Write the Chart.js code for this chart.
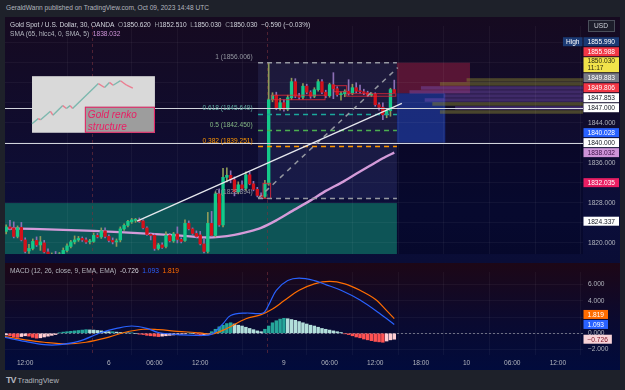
<!DOCTYPE html>
<html>
<head>
<meta charset="utf-8">
<script src="https://cdn.jsdelivr.net/npm/chart.js@4.4.0/dist/chart.umd.min.js"></script>
<style>
  html, body { margin: 0; padding: 0; width: 625px; height: 390px; overflow: hidden; background: #1e212a; font-family: "Liberation Sans", Arial, sans-serif; }
  .txt { position: absolute; white-space: nowrap; font-size: 6.6px; line-height: 9px; color: #d1d4dc; z-index: 5; }
  .g { color: #9598a1; }
  #panel { position: absolute; left: 5px; top: 17px; width: 615px; height: 353px; }
  #mainWrap { position: absolute; left: 0; top: 0; width: 615px; height: 246px; background: linear-gradient(#160a20, #100c2e 45%, #0b0e3a 80%, #0a0d36); }
  #macdWrap { position: absolute; left: 0; top: 246px; width: 615px; height: 107px; background: linear-gradient(#1d0716, #0a0a30 55%, #010b3c); }
</style>
</head>
<body>
<div class="txt" style="left:6px;top:3px;color:#b2b5be">GeraldWann published on TradingView.com, Oct 09, 2023 14:48 UTC</div>
<div id="panel">
  <div id="mainWrap"><canvas id="main" width="615" height="246"></canvas></div>
  <div id="macdWrap"><canvas id="macd" width="615" height="107"></canvas></div>
</div>
<div class="txt" style="left:10px;top:20px">Gold Spot / U.S. Dollar, 30, OANDA&nbsp; <span class="g">O</span>1850.620&nbsp; <span class="g">H</span>1852.510&nbsp; <span class="g">L</span>1850.030&nbsp; <span class="g">C</span>1850.030&nbsp; −0.590 (−0.03%)</div>
<div class="txt" style="left:10px;top:29px"><span style="color:#b2b5be">SMA (65, hlcc4, 0, SMA, 5)</span>&nbsp; <span style="color:#ce93d8">1838.032</span></div>
<div class="txt" style="left:10px;top:266px"><span style="color:#b2b5be">MACD (12, 26, close, 9, EMA, EMA)</span>&nbsp; -0.726&nbsp; <span style="color:#2962ff">1.093</span>&nbsp; <span style="color:#ff6d00">1.819</span></div>
<div class="txt" style="left:6px;top:375px;font-size:7.5px;line-height:10px;color:#b2b5be"><b style="font-size:9px;letter-spacing:-1px">TV</b>&nbsp;TradingView</div>

<script>
// 30 min bars, index 0 = Oct 9 00:00
const firstIdx = -73;
const ohlc = [
  [1822.3,1823.6,1821.8,1823.2],[1823.2,1824.5,1822.6,1822.9],[1823.0,1824.2,1821.0,1821.3],[1821.3,1823.4,1821.0,1823.0],
  [1823.1,1824.1,1820.4,1820.6],[1820.6,1821.0,1818.0,1818.3],[1818.4,1819.7,1817.9,1818.9],[1818.9,1820.8,1818.6,1820.3],
  [1820.5,1821.2,1819.3,1819.6],[1819.6,1821.3,1818.5,1820.2],[1820.0,1820.5,1818.0,1818.2],[1818.2,1818.8,1816.5,1817.0],
  [1817.0,1818.0,1816.2,1817.5],[1817.5,1818.3,1816.8,1817.2],[1817.2,1818.1,1816.9,1817.8],[1817.8,1819.0,1817.5,1818.5],
  [1818.5,1819.8,1818.2,1819.4],[1819.3,1820.5,1819.0,1820.2],[1820.2,1821.4,1819.8,1820.6],[1820.6,1821.3,1820.3,1820.9],
  [1820.9,1821.2,1820.3,1820.6],[1820.6,1821.0,1819.9,1820.2],[1820.2,1820.7,1819.8,1820.3],[1820.3,1822.0,1820.1,1821.5],
  [1821.5,1821.9,1821.0,1821.2],[1821.2,1823.0,1820.9,1822.4],[1822.4,1823.0,1821.0,1821.3],[1821.3,1821.6,1820.2,1820.5],
  [1820.5,1821.0,1819.8,1820.2],[1820.2,1820.8,1819.3,1820.4],[1820.6,1823.2,1820.2,1822.8],[1822.8,1823.8,1822.5,1823.5],
  [1823.5,1824.5,1823.2,1824.3],[1824.2,1824.9,1823.9,1824.6],[1824.5,1824.9,1824.1,1824.7],[1824.6,1825.0,1824.1,1824.3],
  [1824.4,1824.6,1822.8,1823.0],[1823.0,1823.2,1821.5,1821.7],[1821.7,1822.0,1820.6,1821.5],[1821.5,1821.8,1818.5,1818.9],
  [1818.9,1819.9,1818.6,1819.6],[1819.6,1820.0,1818.9,1819.1],[1819.3,1822.2,1819.0,1821.5],[1821.5,1821.9,1820.2,1820.4],
  [1820.4,1822.1,1820.1,1821.8],[1821.8,1823.2,1820.0,1820.7],[1820.7,1821.0,1820.0,1820.3],[1820.5,1824.6,1820.3,1823.9],
  [1823.9,1824.4,1822.6,1822.8],[1822.8,1823.0,1821.7,1821.9],[1821.9,1822.4,1821.0,1821.3],[1821.6,1822.3,1819.6,1819.8],
  [1819.8,1820.8,1818.0,1818.3],[1818.3,1826.1,1818.0,1823.9],[1823.9,1826.3,1821.3,1821.5],[1821.5,1830.2,1821.2,1829.8],
  [1829.8,1830.8,1823.3,1823.6],[1823.6,1834.9,1823.2,1833.1],[1833.1,1835.0,1832.2,1833.5],[1833.5,1834.4,1832.0,1832.6],
  [1832.6,1833.2,1829.4,1830.2],[1830.2,1832.2,1829.8,1831.6],[1831.6,1832.4,1830.6,1830.9],[1830.9,1834.2,1830.5,1833.6],
  [1833.6,1834.1,1831.6,1831.8],[1831.8,1832.3,1830.4,1830.7],[1830.7,1831.1,1829.2,1829.5],[1829.5,1830.0,1828.894,1829.2],
  [1829.3,1832.5,1829.0,1831.8],[1831.8,1855.99,1831.5,1848.6],[1848.6,1850.0,1848.2,1849.5],[1849.5,1850.1,1846.6,1846.9],
  [1846.9,1848.9,1846.5,1848.0],[1848.0,1848.6,1846.3,1846.7],[1846.7,1849.5,1846.4,1849.0],[1849.0,1852.9,1848.6,1852.2],
  [1852.2,1852.8,1849.0,1849.3],[1849.3,1849.9,1848.7,1849.1],[1849.1,1851.8,1848.7,1851.3],[1851.3,1851.7,1849.8,1850.1],
  [1850.1,1850.4,1848.9,1849.3],[1849.3,1851.0,1849.0,1850.6],[1850.6,1852.6,1850.3,1852.2],[1852.2,1852.6,1849.8,1850.1],
  [1850.1,1850.5,1849.0,1849.4],[1849.4,1851.9,1849.1,1851.6],[1851.6,1854.0,1848.8,1850.8],[1850.8,1851.2,1849.3,1849.6],
  [1849.6,1850.2,1848.5,1849.8],[1849.8,1850.6,1849.2,1850.3],[1850.3,1852.6,1849.5,1849.9],[1849.9,1851.7,1849.6,1851.0],
  [1851.0,1852.0,1850.0,1850.3],[1850.3,1851.5,1849.9,1850.2],[1850.2,1850.7,1849.6,1850.0],[1850.0,1850.3,1849.2,1849.5],
  [1849.5,1850.0,1849.2,1849.7],[1849.7,1850.0,1847.3,1847.6],[1847.6,1848.0,1846.5,1847.1],[1847.1,1848.0,1844.6,1845.6],
  [1845.6,1846.8,1845.0,1846.4],[1846.4,1850.9,1845.3,1850.62],[1850.62,1852.51,1850.03,1850.03]
];
const smaPts = [
  [-73.3,1822.9],[-66,1822.8],[-58,1822.6],[-50,1822.4],[-42,1822.1],[-35,1821.8],[-28,1821.5],[-21,1821.1],
  [-17,1821.2],[-13,1821.6],[-9,1822.3],[-6,1823.0],[-2,1824.5],[2,1826.3],[7,1828.5],[11,1830.4],
  [15.5,1832.2],[19,1833.8],[22.6,1835.4],[26,1836.9],[29,1838.03]
];
const macdHist = [
  -0.2,-0.3,-0.45,-0.5,-0.4,-0.3,-0.35,-0.5,-0.6,-0.55,-0.45,-0.35,-0.25,-0.15,
  0.05,0.15,0.2,0.25,0.3,0.35,0.4,0.45,0.42,0.4,0.35,0.3,
  0.25,0.2,0.2,0.15,0.1,0.1,0.05,0.05,0.0,
  -0.1,-0.15,-0.25,-0.3,-0.35,-0.4,-0.35,-0.3,-0.25,-0.2,-0.15,
  -0.1,-0.05,0.05,0.0,-0.1,-0.3,-0.2,-0.1,
  0.2,0.5,0.8,1.0,1.2,1.3,
  1.15,1.0,0.9,0.75,0.6,0.45,0.3,0.2,
  0.5,0.9,1.3,1.55,1.75,1.85,
  1.8,1.7,1.6,1.45,1.3,1.15,1.0,0.9,0.75,0.6,0.5,0.4,0.3,0.2,0.1,
  -0.05,-0.15,-0.3,-0.45,-0.55,-0.7,-0.8,-0.9,-1.0,-1.05,-1.1,-0.95,-0.8,-0.726
];
const macdPts = [
  [-73.3,-0.5],[-68,-1.0],[-63,-1.4],[-59,-1.4],[-54,-1.0],[-48,0.1],[-44,0.6],[-40,0.9],[-36,0.6],[-33,0.1],
  [-27,-0.2],[-22,-0.25],[-19,-0.1],[-16,1.2],[-14,2.2],[-10,2.5],[-5.5,2.5],[-4,3.5],[-2,5.3],[1,6.5],
  [4,6.8],[8,6.5],[11,6.0],[15,5.3],[20,4.1],[25,2.5],[29,1.093]
];
const signalPts = [
  [-73.3,-0.4],[-68,-0.8],[-63,-1.1],[-57,-1.3],[-52,-1.1],[-47,-0.6],[-42,0.1],[-37,0.5],[-33,0.45],[-28,0.25],
  [-22,0.05],[-19,-0.1],[-15,0.6],[-10,1.8],[-6,2.3],[-3,3.0],[0,4.0],[4,5.3],[8,6.1],[12,6.4],[16,6.1],
  [20,5.3],[24,4.2],[27,2.8],[29,1.819]
];
const timeTicks = [-68,-46,-34,-22,0,12,24,36,48,60,72];
const timeLabels = ['12:00','6','06:00','12:00','9','06:00','12:00','18:00','10','06:00','12:00'];
const sessionBreaks = [-50.5,-4.5];
const priceTicksShown = [1820,1828,1836,1844];
const macdTicksShown = [-2,0,4,6];
const fibLevels = [
  {r:'1', v:1856.006, c:'#9598a1', t:'#9598a1'},
  {r:'0.618', v:1845.649, c:'#1ba89c', t:'#5fa9a0'},
  {r:'0.5', v:1842.450, c:'#4caf50', t:'#86b986'},
  {r:'0.382', v:1839.251, c:'#ff9800', t:'#ff9800'},
  {r:'0', v:1828.894, c:'#9598a1', t:'#9598a1'}
];
const priceLabels = [
  {v:1855.990, text:'1855.990', bg:'#1b3a74', fg:'#ffffff', tag:'High'},
  {v:1855.988, text:'1855.988', bg:'#f23645', fg:'#ffffff'},
  {v:1850.030, text:'1850.030\n11:17', bg:'#f2e34a', fg:'#2b2b10'},
  {v:1849.883, text:'1849.883', bg:'#787b86', fg:'#ffffff'},
  {v:1849.806, text:'1849.806', bg:'#f23645', fg:'#ffffff'},
  {v:1847.853, text:'1847.853', bg:'#ffffff', fg:'#131722'},
  {v:1847.000, text:'1847.000', bg:'#ffffff', fg:'#131722'},
  {v:1840.028, text:'1840.028', bg:'#2962ff', fg:'#ffffff'},
  {v:1840.000, text:'1840.000', bg:'#ffffff', fg:'#131722'},
  {v:1838.032, text:'1838.032', bg:'#ce93d8', fg:'#3a1046'},
  {v:1832.035, text:'1832.035', bg:'#e91e63', fg:'#ffffff'},
  {v:1824.337, text:'1824.337', bg:'#ffffff', fg:'#131722'}
];
const macdLabels = [
  {v:1.819, text:'1.819', bg:'#ff6d00', fg:'#ffffff'},
  {v:1.093, text:'1.093', bg:'#2962ff', fg:'#ffffff'},
  {v:-0.726, text:'−0.726', bg:'#f8d3d8', fg:'#7a1020'}
];
// volume profile rows: [high, low, from index, kind]
const vpRows = [
  [1853.0,1852.2,48,'o'],[1852.2,1851.4,41,'o'],[1851.4,1850.6,36,'p'],[1850.6,1849.8,33,'p'],
  [1849.8,1849.0,42,'p'],[1849.0,1848.2,37,'p'],[1848.2,1847.4,39,'o'],[1847.4,1846.6,45,'p'],[1846.6,1845.8,41,'o']
];
const renkoBoxes = [[-5.5,-3.5,1828.9,1831.9],[-3.2,10.8,1848.6,1849.5],[13.2,16.5,1850.2,1851.4],[16.5,29.4,1849.3,1849.8]];
// inset picture: renko path in percent of the box
const insetPath = [[0,16],[5,25],[7,23],[15,38],[17,31],[25,48],[28,43],[31,48],[33,43],[54,87],[59,80],[63,89],[66,84],[72,92],[77,84],[82,79]];

const xMin = -73.3, xMax = 78.6;
const FONT = '6.6px "Liberation Sans", Arial, sans-serif';
const UP = '#14c98a', DOWN = '#d3111a';

const idx = ohlc.map((_, k) => firstIdx + k);

function drawAxisLabels(chart, list) {
  const {ctx, chartArea, scales: {y}} = chart;
  ctx.save();
  ctx.font = FONT;
  ctx.textBaseline = 'middle';
  let prevTop = Infinity;
  list.slice().sort((a, b) => a.v - b.v).forEach(l => {
    const lines = l.text.split('\n');
    const h = lines.length > 1 ? 15 : 9;
    let cy = Math.min(y.getPixelForValue(l.v), prevTop - 1 - h / 2);
    const top = cy - h / 2;
    const w = Math.max(...lines.map(t => ctx.measureText(t).width)) + 8;
    const x0 = chartArea.right + 0.5;
    ctx.fillStyle = l.bg;
    ctx.fillRect(x0, top, w, h);
    ctx.fillStyle = l.fg;
    lines.forEach((t, k) => ctx.fillText(t, x0 + 4, lines.length > 1 ? top + 4 + k * 7 : cy + 0.5));
    if (l.tag) {
      const tw = ctx.measureText(l.tag).width + 6;
      ctx.fillStyle = l.bg;
      ctx.fillRect(x0 - tw - 1, top, tw, h);
      ctx.fillStyle = '#ffffff';
      ctx.fillText(l.tag, x0 - tw + 2, cy + 0.5);
    }
    prevTop = top;
  });
  ctx.restore();
}

function drawBreaks(chart) {
  const {ctx, chartArea, scales: {x}} = chart;
  ctx.save();
  ctx.strokeStyle = 'rgba(120,50,62,0.6)';
  ctx.setLineDash([3, 3]);
  ctx.lineWidth = 1;
  sessionBreaks.forEach(b => {
    const px = Math.round(x.getPixelForValue(b)) + 0.5;
    ctx.beginPath(); ctx.moveTo(px, chartArea.top); ctx.lineTo(px, chartArea.bottom); ctx.stroke();
  });
  ctx.restore();
}

const mainPlugin = {
  id: 'mainDeco',
  beforeDraw(chart) {
    const {ctx, chartArea: a, scales: {x, y}} = chart;
    const X = v => x.getPixelForValue(v), Y = v => y.getPixelForValue(v);
    ctx.save();
    // teal zone
    ctx.fillStyle = '#0d5456';
    ctx.fillRect(a.left, Y(1827.96), X(29.7) - a.left, a.bottom - Y(1827.96));
    // darker right part
    ctx.fillStyle = 'rgba(0,0,25,0.35)';
    ctx.fillRect(X(29.7), Y(1840), a.right - X(29.7), a.bottom - Y(1840));
    // fib box
    ctx.fillStyle = 'rgba(90,100,170,0.16)';
    ctx.fillRect(X(-6.8), Y(1856.006), X(29.7) - X(-6.8), Y(1828.894) - Y(1856.006));
    // position boxes
    ctx.fillStyle = 'rgba(200,40,75,0.38)';
    ctx.fillRect(X(29.7), Y(1855.988), X(48.9) - X(29.7), Y(1849.883) - Y(1855.988));
    ctx.fillStyle = 'rgba(41,98,255,0.38)';
    ctx.fillRect(X(29.7), Y(1849.883), X(42.4) - X(29.7), Y(1840.028) - Y(1849.883));
    // volume profile
    vpRows.forEach(r => {
      ctx.fillStyle = r[3] === 'o' ? 'rgba(130,125,45,0.5)' : 'rgba(120,80,180,0.45)';
      ctx.fillRect(X(r[2]), Y(r[0]) + 0.5, a.right - X(r[2]), Y(r[1]) - Y(r[0]) - 0.5);
    });
    ctx.restore();
  },
  beforeDatasetsDraw(chart) { drawBreaks(chart); },
  afterDatasetsDraw(chart) {
    const {ctx, chartArea: a, scales: {x, y}} = chart;
    const X = v => x.getPixelForValue(v), Y = v => y.getPixelForValue(v);
    ctx.save();
    // renko boxes
    ctx.strokeStyle = 'rgba(225,40,55,0.85)';
    ctx.lineWidth = 1;
    renkoBoxes.forEach(b => ctx.strokeRect(X(b[0]), Y(b[3]), X(b[1]) - X(b[0]), Y(b[2]) - Y(b[3])));
    // horizontal lines
    ctx.strokeStyle = '#d1d4dc';
    [1847.0, 1840.0].forEach(v => {
      const py = Math.round(Y(v)) + 0.5;
      ctx.beginPath(); ctx.moveTo(a.left, py); ctx.lineTo(a.right, py); ctx.stroke();
    });
    // fib levels
    ctx.lineWidth = 1.5;
    ctx.setLineDash([5, 4]);
    ctx.font = FONT;
    ctx.textAlign = 'right';
    fibLevels.forEach(f => {
      ctx.strokeStyle = f.c;
      ctx.beginPath(); ctx.moveTo(X(-6.8), Y(f.v)); ctx.lineTo(X(29.7), Y(f.v)); ctx.stroke();
      ctx.fillStyle = f.t;
      ctx.fillText(f.r + ' (' + f.v.toFixed(3) + ')', X(-8.2), Y(f.v) - 4);
    });
    // fib diagonal
    ctx.strokeStyle = '#9598a1';
    ctx.setLineDash([5, 5]);
    ctx.beginPath(); ctx.moveTo(X(-6.8), Y(1828.894)); ctx.lineTo(X(29.9), Y(1855.0)); ctx.stroke();
    // trend line
    ctx.setLineDash([]);
    ctx.strokeStyle = '#e6e8ee';
    ctx.lineWidth = 1.3;
    ctx.beginPath(); ctx.moveTo(X(-38.6), Y(1824.337)); ctx.lineTo(X(31), Y(1847.853)); ctx.stroke();
    ctx.restore();
  },
  afterDraw(chart) {
    const {ctx, chartArea: a, scales: {x, y}} = chart;
    const X = v => x.getPixelForValue(v), Y = v => y.getPixelForValue(v);
    drawAxisLabels(chart, priceLabels);
    ctx.save();
    // USD box
    ctx.fillStyle = '#1c1d2a';
    ctx.strokeStyle = '#4a4e5a';
    ctx.fillRect(a.right + 5, 3, 26, 11);
    ctx.strokeRect(a.right + 5.5, 3.5, 26, 11);
    ctx.fillStyle = '#d1d4dc';
    ctx.font = FONT;
    ctx.textBaseline = 'middle';
    ctx.fillText('USD', a.right + 11, 9.5);
    // inset picture
    const bx0 = X(-66.2), bx1 = X(-33.9), by0 = Y(1853.3), by1 = Y(1842.0);
    const w = bx1 - bx0, h = by1 - by0;
    ctx.fillStyle = '#d9d9d9';
    ctx.fillRect(bx0, by0, w, h);
    ctx.lineWidth = 1.4;
    for (let k = 1; k < insetPath.length; k++) {
      const p0 = insetPath[k - 1], p1 = insetPath[k];
      ctx.strokeStyle = p1[1] >= p0[1] ? '#7cb8ae' : '#ec7d90';
      ctx.beginPath();
      ctx.moveTo(bx0 + p0[0] / 100 * w, by1 - p0[1] / 100 * h);
      ctx.lineTo(bx0 + p1[0] / 100 * w, by1 - p1[1] / 100 * h);
      ctx.stroke();
    }
    const lx = bx0 + 0.43 * w, ly = by0 + 0.54 * h;
    ctx.fillStyle = '#9d9d9d';
    ctx.fillRect(lx, ly, bx1 - lx, by1 - ly);
    ctx.strokeStyle = '#e91e63';
    ctx.lineWidth = 1;
    ctx.strokeRect(lx + 0.5, ly + 0.5, bx1 - lx - 1, by1 - ly - 1);
    ctx.fillStyle = '#e91e63';
    ctx.font = 'italic 10px "Liberation Sans", Arial, sans-serif';
    ctx.textBaseline = 'alphabetic';
    ctx.fillText('Gold renko', lx + 3, ly + 11);
    ctx.fillText('structure', lx + 3, ly + 23);
    ctx.restore();
  }
};

new Chart(document.getElementById('main'), {
  type: 'bar',
  data: {
    datasets: [
      {
        type: 'line', order: 3,
        data: smaPts.map(p => ({x: p[0], y: p[1]})),
        borderColor: '#d49bd9', borderWidth: 2.4, pointRadius: 0, tension: 0.2
      },
      {
        order: 2, grouped: false, barThickness: 1, borderWidth: 0,
        data: ohlc.map((c, k) => ({x: idx[k], y: [c[2], c[1]]})),
        backgroundColor: ohlc.map(c => c[3] >= c[0] ? '#8e9a5a' : '#8c6fb5')
      },
      {
        order: 1, grouped: false, barThickness: 2.7, borderWidth: 0, minBarLength: 1,
        data: ohlc.map((c, k) => ({x: idx[k], y: [Math.min(c[0], c[3]), Math.max(c[0], c[3])]})),
        backgroundColor: ohlc.map(c => c[3] >= c[0] ? UP : DOWN)
      }
    ]
  },
  options: {
    responsive: false, animation: false, events: [],
    layout: {padding: 0},
    plugins: {legend: {display: false}, tooltip: {enabled: false}},
    scales: {
      x: {
        type: 'linear', min: xMin, max: xMax, offset: false,
        afterBuildTicks: s => { s.ticks = timeTicks.map(v => ({value: v})); },
        afterFit: s => { s.height = 0; },
        ticks: {display: false},
        grid: {color: 'rgba(255,255,255,0.045)', drawTicks: false},
        border: {display: false}
      },
      y: {
        position: 'right', min: 1817.78, max: 1863.33,
        afterBuildTicks: s => { s.ticks = [1820,1824,1828,1832,1836,1840,1844,1848,1852,1856,1860].map(v => ({value: v})); },
        afterFit: s => { s.width = 37; },
        ticks: {
          color: '#b2b5be', font: {size: 6.6, family: '"Liberation Sans", Arial, sans-serif'}, padding: 5,
          callback: v => priceTicksShown.includes(v) ? v.toFixed(3) : ''
        },
        grid: {color: 'rgba(255,255,255,0.045)', drawTicks: false},
        border: {display: false}
      }
    }
  },
  plugins: [mainPlugin]
});

const histColors = macdHist.map((v, k) => {
  const prev = k > 0 ? macdHist[k - 1] : v;
  if (v >= 0) return v >= prev ? '#26a69a' : '#b2dfdb';
  return v < prev ? '#ff5252' : '#ffcdd2';
});

const macdPlugin = {
  id: 'macdDeco',
  beforeDatasetsDraw(chart) {
    drawBreaks(chart);
    const {ctx, chartArea: a, scales: {y}} = chart;
    ctx.save();
    ctx.strokeStyle = 'rgba(150,153,165,0.7)';
    ctx.setLineDash([2, 2]);
    const py = Math.round(y.getPixelForValue(0)) + 0.5;
    ctx.beginPath(); ctx.moveTo(a.left, py); ctx.lineTo(a.right, py); ctx.stroke();
    ctx.restore();
  },
  afterDraw(chart) { drawAxisLabels(chart, macdLabels); }
};

new Chart(document.getElementById('macd'), {
  type: 'bar',
  data: {
    datasets: [
      {
        type: 'line', order: 1,
        data: macdPts.map(p => ({x: p[0], y: p[1]})),
        borderColor: '#2962ff', borderWidth: 1.2, pointRadius: 0, tension: 0.35
      },
      {
        type: 'line', order: 2,
        data: signalPts.map(p => ({x: p[0], y: p[1]})),
        borderColor: '#ff6d00', borderWidth: 1.2, pointRadius: 0, tension: 0.35
      },
      {
        order: 3, barThickness: 2.8, borderWidth: 0,
        data: macdHist.map((v, k) => ({x: idx[k], y: v})),
        backgroundColor: histColors
      }
    ]
  },
  options: {
    responsive: false, animation: false, events: [],
    layout: {padding: 0},
    plugins: {legend: {display: false}, tooltip: {enabled: false}},
    scales: {
      x: {
        type: 'linear', min: xMin, max: xMax, offset: false,
        afterBuildTicks: s => { s.ticks = timeTicks.map(v => ({value: v})); },
        afterFit: s => { s.height = 15; },
        ticks: {
          color: '#b2b5be', font: {size: 6.6, family: '"Liberation Sans", Arial, sans-serif'}, padding: 4,
          maxRotation: 0, autoSkip: false,
          callback: (v, k) => timeLabels[k]
        },
        grid: {color: 'rgba(255,255,255,0.045)', drawTicks: false},
        border: {display: false}
      },
      y: {
        position: 'right', min: -2.67, max: 7.56,
        afterBuildTicks: s => { s.ticks = [-2, 0, 2, 4, 6].map(v => ({value: v})); },
        afterFit: s => { s.width = 37; },
        ticks: {
          color: '#b2b5be', font: {size: 6.6, family: '"Liberation Sans", Arial, sans-serif'}, padding: 5,
          callback: v => macdTicksShown.includes(v) ? (v < 0 ? '−' + Math.abs(v).toFixed(3) : v.toFixed(3)) : ''
        },
        grid: {color: 'rgba(255,255,255,0.045)', drawTicks: false},
        border: {display: false}
      }
    }
  },
  plugins: [macdPlugin]
});
</script>
</body>
</html>
